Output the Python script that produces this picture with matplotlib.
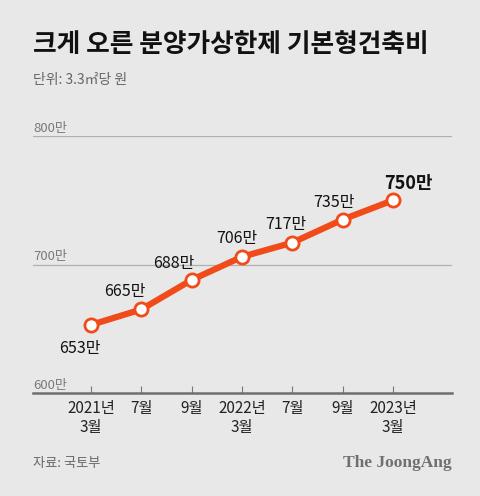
import matplotlib
matplotlib.use("Agg")
import matplotlib.pyplot as plt

plt.rcParams['font.family'] = ['Noto Sans CJK KR', 'DejaVu Sans']

categories = ["2021년\n3월", "7월", "9월", "2022년\n3월", "7월", "9월", "2023년\n3월"]
values = [653, 665, 688, 706, 717, 735, 750]
value_labels = ["653만", "665만", "688만", "706만", "717만", "735만", "750만"]
yticks = [600, 700, 800]
ytick_labels = ["600만", "700만", "800만"]

BG = "#e8e8e8"
ORANGE = "#f04b19"

fig = plt.figure(figsize=(4.8, 4.96), dpi=100, facecolor=BG)
ax = fig.add_axes([33/480, 1-393/496, (452-33)/480, (393-136)/496], facecolor=BG)

x = list(range(len(values)))
ax.set_xlim(-1.15, 7.17)
ax.set_ylim(600, 800)

for yt in yticks[1:]:
    ax.axhline(yt, color="#b0b0b0", lw=0.9, zorder=1)
for yt, lab in zip(yticks, ytick_labels):
    ax.annotate(lab, (-1.15, yt), xytext=(0, 1), textcoords="offset points",
                ha="left", va="bottom", fontsize=9.5, color="#7a7a7a")

ax.plot(x, values, color=ORANGE, lw=4.5, zorder=3, solid_capstyle="round")
ax.plot(x, values, "o", ms=9.5, mfc="white", mec=ORANGE, mew=2, zorder=4)

offsets = [(-8, -17), (-12, 13), (-13, 12), (-4, 13), (-5, 13), (-6, 12), (11, 12)]
for i, (v, lab, (dx, dy)) in enumerate(zip(values, value_labels, offsets)):
    bold = (i == len(values) - 1)
    ax.annotate(lab, (i, v), xytext=(dx, dy), textcoords="offset points",
                ha="center", va="center", fontsize=13 if bold else 11.5,
                fontweight="bold" if bold else "normal", color="#111111", zorder=5)

for s in ["top", "right", "left"]:
    ax.spines[s].set_visible(False)
ax.spines["bottom"].set_color("#6e6e6e")
ax.spines["bottom"].set_linewidth(1.8)
ax.set_yticks([])
ax.set_xticks(x)
ax.set_xticklabels(categories, fontsize=11, color="#222222", linespacing=1.15)
ax.tick_params(axis="x", direction="in", length=5, width=0.8, color="#777777", pad=5)

fig.text(33/480, 1-45/496, "크게 오른 분양가상한제 기본형건축비", fontsize=18.5, fontweight="bold",
         color="#111111", ha="left", va="center")
fig.text(33/480, 1-80/496, "단위: 3.3㎡당 원", fontsize=10, color="#666666", ha="left", va="center")
fig.text(33/480, 1-463/496, "자료: 국토부", fontsize=9.5, color="#666666", ha="left", va="center")
fig.text(452/480, 1-463/496, "The JoongAng", fontsize=12.5, fontweight="bold", color="#707070",
         ha="right", va="center", family=["Liberation Serif", "DejaVu Serif"])

fig.savefig("out.png", dpi=100, facecolor=BG)
